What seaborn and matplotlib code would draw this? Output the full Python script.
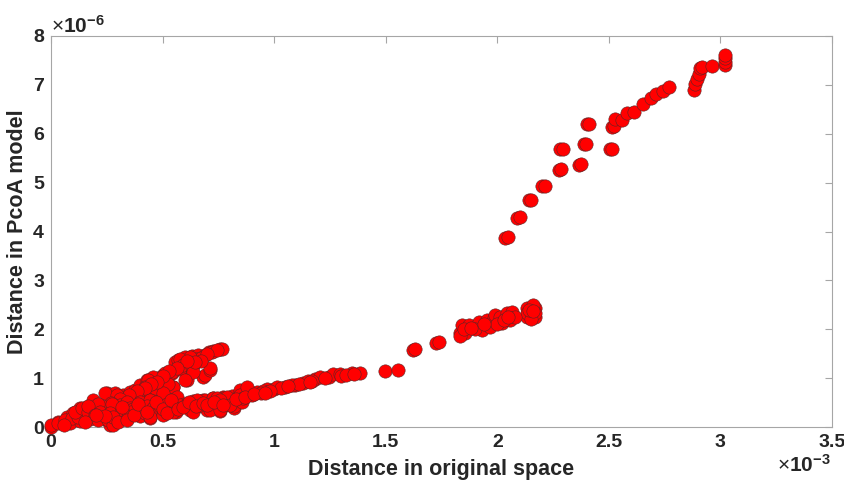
import matplotlib
matplotlib.use("Agg")
import matplotlib.pyplot as plt
import seaborn as sns
import pandas as pd

# Distance in original space (x 1e-3) and in PCoA model (x 1e-6)
branch_upper_x = [0.000, 0.033, 0.070, 0.100, 0.130, 0.190, 0.250, 0.287, 0.324, 0.354,
                  0.377, 0.399, 0.429, 0.444, 0.481, 0.504, 0.519, 0.541, 0.548, 0.556,
                  0.571, 0.601, 0.608, 0.608, 0.631, 0.638, 0.661, 0.683, 0.691, 0.691,
                  0.706, 0.713, 0.728, 0.758, 0.765, 0.459, 0.414, 0.496, 0.240, 0.465,
                  0.520, 0.580, 0.590, 0.650, 0.672,
                  0.720, 0.623, 0.578, 0.593, 0.631, 0.713, 0.638, 0.601, 0.541, 0.511,
                  0.489, 0.459, 0.429, 0.548, 0.526, 0.414, 0.466, 0.504, 0.563, 0.436,
                  0.422, 0.391, 0.362, 0.294, 0.332,
                  0.745, 0.700, 0.670, 0.645, 0.610, 0.565, 0.530, 0.500, 0.475, 0.450,
                  0.420, 0.385, 0.350, 0.310, 0.270, 0.230, 0.210, 0.160, 0.115, 0.050]
branch_upper_y = [0.00, 0.11, 0.20, 0.28, 0.38, 0.55, 0.69, 0.69, 0.65, 0.72,
                  0.76, 0.86, 0.89, 0.96, 1.00, 1.06, 0.89, 1.11, 0.82, 1.34,
                  1.38, 1.43, 1.23, 0.96, 1.45, 1.27, 1.47, 1.03, 1.47, 1.06,
                  1.54, 1.17, 1.56, 1.595, 1.59, 0.72, 0.65, 0.62, 0.69, 0.86,
                  1.00, 1.18, 1.30, 1.40, 1.42,
                  1.54, 1.44, 1.40, 1.27, 1.23, 1.20, 1.13, 0.96, 1.13, 1.10,
                  0.96, 1.03, 0.96, 0.82, 0.89, 0.76, 0.79, 0.69, 0.62, 0.96,
                  0.82, 0.69, 0.62, 0.65, 0.52,
                  1.57, 1.50, 1.35, 1.33, 1.36, 1.20, 1.15, 1.05, 0.92, 0.88,
                  0.80, 0.74, 0.66, 0.58, 0.50, 0.42, 0.48, 0.40, 0.30, 0.08]

branch_lower_x = [0.085, 0.130, 0.145, 0.175, 0.220, 0.220, 0.250, 0.265, 0.279, 0.294,
                  0.294, 0.309, 0.324, 0.339, 0.354, 0.369, 0.399, 0.399, 0.414, 0.444,
                  0.444, 0.459, 0.504, 0.548, 0.594, 0.623, 0.638, 0.683, 0.691, 0.698,
                  0.721, 0.728, 0.728, 0.758, 0.773, 0.773, 0.788, 0.810, 0.818, 0.818,
                  0.848, 0.848, 0.855, 0.885, 0.922, 0.967, 1.000, 1.012, 1.049, 1.094,
                  1.131, 1.150, 1.184, 1.206, 1.244, 1.266, 1.296, 1.300, 1.348, 1.386,
                  0.310, 0.360, 0.420, 0.480, 0.530, 0.560, 0.600, 0.660, 0.740, 0.900,
                  0.950, 1.080,
                  0.000, 0.033, 0.063, 0.093, 0.122, 0.108, 0.138, 0.167, 0.167, 0.197,
                  0.212, 0.152, 0.272, 0.265, 0.257, 0.279, 0.317, 0.347, 0.399, 0.422,
                  0.451, 0.429, 0.459, 0.489, 0.519, 0.548, 0.578, 0.608, 0.638, 0.653,
                  0.713, 0.758, 0.743, 0.788, 0.848, 0.878, 0.444, 0.504, 0.758, 0.803,
                  0.940, 1.030, 1.110, 1.170, 1.230, 0.980, 0.860,
                  0.280, 0.300, 0.320, 0.340, 0.370, 0.390, 0.430, 0.470, 0.500, 0.520,
                  0.540, 0.570, 0.590, 0.620, 0.650, 0.680, 0.700, 0.730, 0.770, 0.830,
                  0.870, 0.910, 0.960, 1.060, 1.160, 1.320, 1.360, 0.240, 0.200, 0.060]
branch_lower_y = [0.09, 0.13, 0.25, 0.16, 0.20, 0.31, 0.14, 0.04, 0.25, 0.13,
                  0.35, 0.45, 0.31, 0.52, 0.38, 0.36, 0.22, 0.52, 0.38, 0.18,
                  0.55, 0.40, 0.43, 0.45, 0.48, 0.35, 0.54, 0.55, 0.55, 0.35,
                  0.42, 0.59, 0.59, 0.33, 0.62, 0.59, 0.48, 0.63, 0.38, 0.42,
                  0.69, 0.76, 0.52, 0.70, 0.72, 0.77, 0.78, 0.82, 0.82, 0.86,
                  0.91, 0.94, 0.98, 1.02, 1.02, 1.08, 1.08, 1.05, 1.10, 1.10,
                  0.28, 0.30, 0.32, 0.36, 0.40, 0.30, 0.45, 0.42, 0.50, 0.65,
                  0.74, 0.85,
                  0.04, 0.08, 0.14, 0.18, 0.21, 0.31, 0.38, 0.31, 0.43, 0.25,
                  0.14, 0.11, 0.48, 0.28, 0.14, 0.04, 0.35, 0.21, 0.42, 0.28,
                  0.35, 0.42, 0.38, 0.42, 0.48, 0.31, 0.45, 0.48, 0.31, 0.55,
                  0.35, 0.35, 0.59, 0.62, 0.65, 0.82, 0.21, 0.25, 0.55, 0.45,
                  0.70, 0.80, 0.88, 0.95, 1.00, 0.74, 0.60,
                  0.20, 0.10, 0.40, 0.15, 0.25, 0.48, 0.30, 0.52, 0.36, 0.28,
                  0.56, 0.36, 0.40, 0.52, 0.42, 0.50, 0.45, 0.52, 0.45, 0.58,
                  0.62, 0.68, 0.70, 0.84, 0.92, 1.06, 1.09, 0.22, 0.24, 0.05]

gap_x = [1.498, 1.557, 1.622, 1.633, 1.726, 1.737]
gap_y = [1.15, 1.17, 1.57, 1.59, 1.72, 1.73]

middle_x = [1.834, 1.842, 1.857, 1.871, 1.916, 1.931, 1.954, 1.969, 1.984, 1.991,
            2.013, 2.021, 2.043, 2.058, 2.066, 2.133, 2.133, 2.133, 2.170, 2.170,
            2.170, 1.835, 1.900, 2.000, 2.080, 2.150, 2.160, 1.850, 1.880, 1.940,
            2.030, 2.050, 2.140, 2.160]
middle_y = [1.92, 2.09, 1.92, 2.09, 2.15, 1.98, 2.19, 2.05, 2.22, 2.29,
            2.26, 2.12, 2.33, 2.19, 2.36, 2.43, 2.26, 2.34, 2.43, 2.26,
            2.34, 1.86, 2.00, 2.10, 2.25, 2.20, 2.50, 2.00, 2.02, 2.10,
            2.18, 2.25, 2.40, 2.38]

upper_x = [2.036, 2.048, 2.088, 2.100, 2.140, 2.152, 2.200, 2.212, 2.275, 2.287,
           2.283, 2.295, 2.365, 2.377, 2.387, 2.399, 2.402, 2.412, 2.504, 2.514,
           2.514, 2.524, 2.529, 2.559, 2.582, 2.611, 2.653, 2.689, 2.713, 2.743,
           2.771, 2.880, 2.888, 2.895, 2.903, 2.910, 2.918, 2.963, 3.022, 3.022,
           3.022, 3.022]
upper_y = [3.87, 3.88, 4.28, 4.29, 4.64, 4.65, 4.93, 4.94, 5.26, 5.27,
           5.68, 5.69, 5.37, 5.38, 5.79, 5.80, 6.19, 6.20, 5.68, 5.69,
           6.14, 6.15, 6.30, 6.28, 6.43, 6.44, 6.61, 6.74, 6.81, 6.88,
           6.96, 6.89, 7.01, 7.13, 7.23, 7.34, 7.37, 7.39, 7.40, 7.47,
           7.55, 7.61]

x_ticks = [0, 0.5, 1, 1.5, 2, 2.5, 3, 3.5]
x_tick_labels = ["0", "0.5", "1", "1.5", "2", "2.5", "3", "3.5"]
y_ticks = [0, 1, 2, 3, 4, 5, 6, 7, 8]
y_tick_labels = ["0", "1", "2", "3", "4", "5", "6", "7", "8"]

df = pd.DataFrame({
    "x": branch_upper_x + branch_lower_x + gap_x + middle_x + upper_x,
    "y": branch_upper_y + branch_lower_y + gap_y + middle_y + upper_y,
})

sns.set_theme(style="white")
plt.rcParams["font.family"] = ["Liberation Sans", "DejaVu Sans"]
plt.rcParams["mathtext.fontset"] = "custom"
plt.rcParams["mathtext.rm"] = "Liberation Sans"
plt.rcParams["mathtext.bf"] = "Liberation Sans:bold"

fig = plt.figure(figsize=(8.44, 4.84), dpi=100)
ax = fig.add_axes([51 / 844, 57 / 484, 781 / 844, 391 / 484])

sns.scatterplot(data=df, x="x", y="y", ax=ax, s=92, color="#ff0000",
                edgecolor="#5a2525", linewidth=0.4, legend=False, zorder=3,
                clip_on=False)

ax.set_xlim(0, 3.5)
ax.set_ylim(0, 8)
ax.set_xticks(x_ticks)
ax.set_xticklabels(x_tick_labels)
ax.set_yticks(y_ticks)
ax.set_yticklabels(y_tick_labels)

spine_col = "#a6a6a6"
for sp in ax.spines.values():
    sp.set_visible(True)
    sp.set_color(spine_col)
    sp.set_linewidth(0.8)
ax.tick_params(direction="in", length=5, width=0.8, color=spine_col,
               top=True, right=True, labelsize=14, labelcolor="#262626", pad=5)
for lab in ax.get_xticklabels() + ax.get_yticklabels():
    lab.set_fontweight("bold")

ax.set_xlabel("Distance in original space", fontsize=15.5, fontweight="bold",
              color="#262626", labelpad=6)
ax.set_ylabel("Distance in PcoA model", fontsize=15.5, fontweight="bold",
              color="#262626", labelpad=4)

ax.text(0.0, 0.998, r"$\times\mathbf{10^{-6}}$", transform=ax.transAxes,
        fontsize=15, color="#262626", ha="left", va="bottom")
ax.text(0.998, -0.07, r"$\times\mathbf{10^{-3}}$", transform=ax.transAxes,
        fontsize=15, color="#262626", ha="right", va="top")

fig.savefig("out.png", dpi=100)
